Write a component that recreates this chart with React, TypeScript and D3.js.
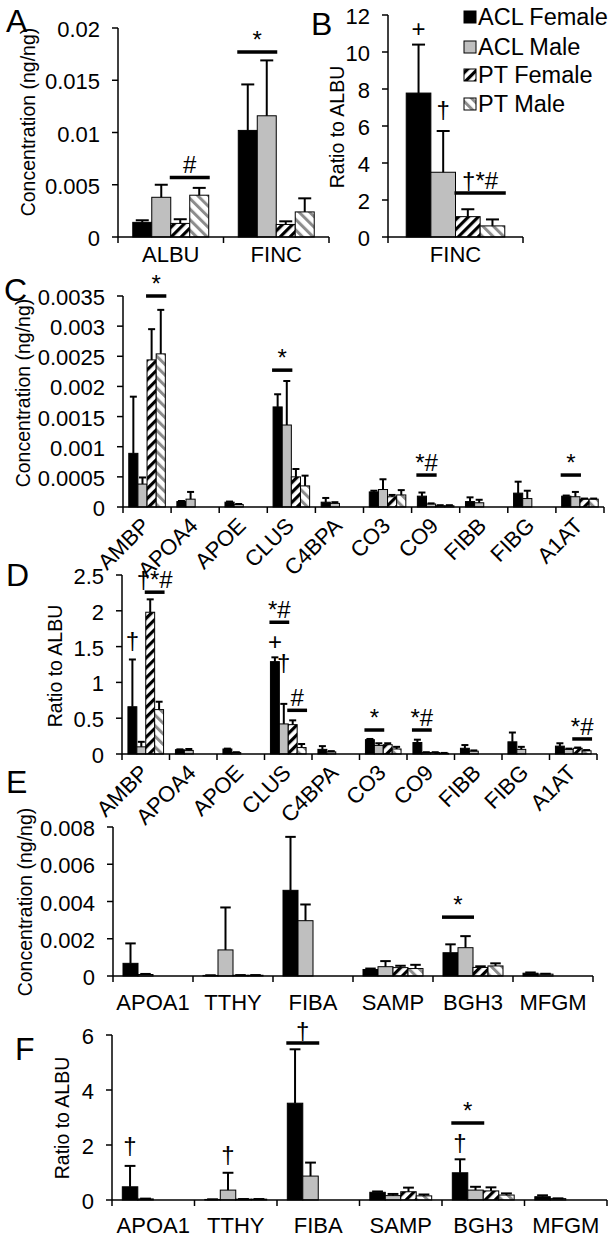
import React from "react";
import * as d3 from "d3";

const FONT = "'Liberation Sans', Arial, Helvetica, sans-serif";
const GROUPS = ["ACL Female", "ACL Male", "PT Female", "PT Male"];
const FILLS = ["#000000", "#bfbfbf", "url(#ptF)", "url(#ptM)"];

type Row = (number | null)[];
type SigLine = { cat: string; g0: number; g1: number; y: number; text: string };
type SigMark = { cat: string; g: number; y: number; text: string };

// ---------- Panel A: concentration ----------
const catsA = ["ALBU", "FINC"];
const meanA: Row[] = [
  [0.0014, 0.0038, 0.0013, 0.004],
  [0.0102, 0.0116, 0.0012, 0.0024],
];
const errA: Row[] = [
  [0.0002, 0.0012, 0.0004, 0.0007],
  [0.0044, 0.0053, 0.0003, 0.0013],
];
const ticksA = ["0", "0.005", "0.01", "0.015", "0.02"];
const sigLinesA: SigLine[] = [
  { cat: "ALBU", g0: 2, g1: 3, y: 0.0057, text: "#" },
  { cat: "FINC", g0: 0, g1: 1, y: 0.0177, text: "*" },
];
const sigMarksA: SigMark[] = [];

// ---------- Panel B: ratio to ALBU ----------
const catsB = ["FINC"];
const meanB: Row[] = [[7.78, 3.5, 1.1, 0.6]];
const errB: Row[] = [[2.62, 2.23, 0.4, 0.35]];
const ticksB = ["0", "2", "4", "6", "8", "10", "12"];
const sigLinesB: SigLine[] = [{ cat: "FINC", g0: 2, g1: 3, y: 2.38, text: "†*#" }];
const sigMarksB: SigMark[] = [
  { cat: "FINC", g: 0, y: 10.8, text: "+" },
  { cat: "FINC", g: 1, y: 6.43, text: "†" },
];

// ---------- Panel C: concentration ----------
const catsCD = ["AMBP", "APOA4", "APOE", "CLUS", "C4BPA", "CO3", "CO9", "FIBB", "FIBG", "A1AT"];
const meanC: Row[] = [
  [0.00089, 0.00038, 0.00244, 0.00254],
  [0.00009, 0.00013, null, null],
  [0.00008, 0.00004, null, null],
  [0.00166, 0.00136, 0.0005, 0.00035],
  [0.00008, 0.00006, null, null],
  [0.00025, 0.00029, 0.00017, 0.0002],
  [0.00018, 0.00005, 0.00002, 0.00002],
  [0.00009, 0.00007, null, null],
  [0.00023, 0.00014, null, null],
  [0.00018, 0.00017, 0.00013, 0.00013],
];
const errC: Row[] = [
  [0.00094, 0.00011, 0.00051, 0.00073],
  [0.00001, 0.00012, null, null],
  [0.00001, 0.00001, null, null],
  [0.00021, 0.00073, 0.00013, 0.00017],
  [0.00007, 0.00002, null, null],
  [0.00002, 0.00017, 0.00003, 0.00008],
  [0.00006, 0.00001, 0.00001, 0.00001],
  [0.00007, 0.00005, null, null],
  [0.00019, 0.00013, null, null],
  [0.00001, 0.00008, 0.00001, 0.00001],
];
const ticksC = ["0", "0.0005", "0.001", "0.0015", "0.002", "0.0025", "0.003", "0.0035"];
const sigLinesC: SigLine[] = [
  { cat: "AMBP", g0: 2, g1: 3, y: 0.0035, text: "*" },
  { cat: "CLUS", g0: 0, g1: 1, y: 0.00227, text: "*" },
  { cat: "CO9", g0: 0, g1: 1, y: 0.00053, text: "*#" },
  { cat: "A1AT", g0: 0, g1: 1, y: 0.00053, text: "*" },
];
const sigMarksC: SigMark[] = [];

// ---------- Panel D: ratio to ALBU ----------
const meanD: Row[] = [
  [0.66, 0.1, 1.98, 0.62],
  [0.06, 0.05, null, null],
  [0.07, 0.02, null, null],
  [1.29, 0.42, 0.41, 0.09],
  [0.065, 0.03, null, null],
  [0.2, 0.12, 0.13, 0.07],
  [0.16, 0.02, 0.02, 0.01],
  [0.08, 0.04, null, null],
  [0.17, 0.065, null, null],
  [0.11, 0.065, 0.08, 0.045],
];
const errD: Row[] = [
  [0.66, 0.07, 0.18, 0.11],
  [0.005, 0.02, null, null],
  [0.005, 0.005, null, null],
  [0.06, 0.28, 0.06, 0.05],
  [0.045, 0.01, null, null],
  [0.01, 0.03, 0.02, 0.03],
  [0.04, 0.005, 0.005, 0.005],
  [0.045, 0.01, null, null],
  [0.13, 0.035, null, null],
  [0.04, 0.01, 0.01, 0.01],
];
const ticksD = ["0", "0.5", "1", "1.5", "2", "2.5"];
const sigLinesD: SigLine[] = [
  { cat: "AMBP", g0: 2, g1: 3, y: 2.26, text: "†*#" },
  { cat: "CLUS", g0: 0, g1: 1, y: 1.84, text: "*#" },
  { cat: "CLUS", g0: 2, g1: 3, y: 0.61, text: "#" },
  { cat: "CO3", g0: 0, g1: 1, y: 0.335, text: "*" },
  { cat: "CO9", g0: 0, g1: 1, y: 0.335, text: "*#" },
  { cat: "A1AT", g0: 2, g1: 3, y: 0.21, text: "*#" },
];
const sigMarksD: SigMark[] = [
  { cat: "AMBP", g: 0, y: 1.47, text: "†" },
  { cat: "CLUS", g: 0, y: 1.45, text: "+" },
  { cat: "CLUS", g: 1, y: 1.16, text: "†" },
];

// ---------- Panel E: concentration ----------
const catsEF = ["APOA1", "TTHY", "FIBA", "SAMP", "BGH3", "MFGM"];
const meanE: Row[] = [
  [0.00068, 0.00008, null, null],
  [0.00003, 0.0014, 0.00004, 0.00004],
  [0.0046, 0.00297, null, null],
  [0.00035, 0.0005, 0.00045, 0.0004],
  [0.00125, 0.00152, 0.00046, 0.00054],
  [0.00015, 0.0001, null, null],
];
const errE: Row[] = [
  [0.00107, 0.00003, null, null],
  [0.00001, 0.00228, 0.00001, 0.00001],
  [0.00287, 0.00087, null, null],
  [0.00005, 0.0003, 0.0001, 0.0002],
  [0.00045, 0.00062, 0.00006, 0.00014],
  [0.00004, 0.00002, null, null],
];
const ticksE = ["0", "0.002", "0.004", "0.006", "0.008"];
const sigLinesE: SigLine[] = [{ cat: "BGH3", g0: 0, g1: 1, y: 0.00316, text: "*" }];
const sigMarksE: SigMark[] = [];

// ---------- Panel F: ratio to ALBU ----------
const meanF: Row[] = [
  [0.48, 0.04, null, null],
  [0.02, 0.36, 0.03, 0.03],
  [3.52, 0.87, null, null],
  [0.28, 0.16, 0.3, 0.15],
  [0.99, 0.36, 0.33, 0.18],
  [0.12, 0.05, null, null],
];
const errF: Row[] = [
  [0.76, 0.01, null, null],
  [0.005, 0.63, 0.005, 0.005],
  [1.96, 0.49, null, null],
  [0.03, 0.06, 0.15, 0.05],
  [0.49, 0.12, 0.13, 0.06],
  [0.05, 0.01, null, null],
];
const ticksF = ["0", "2", "4", "6"];
const sigLinesF: SigLine[] = [
  { cat: "FIBA", g0: 0, g1: 1, y: 5.71, text: "†" },
  { cat: "BGH3", g0: 0, g1: 1, y: 2.8, text: "*" },
];
const sigMarksF: SigMark[] = [
  { cat: "APOA1", g: 0, y: 1.67, text: "†" },
  { cat: "TTHY", g: 1, y: 1.35, text: "†" },
  { cat: "BGH3", g: 0, y: 1.78, text: "†" },
];

type Layout = {
  letter: string; letterX: number; letterY: number;
  x0: number; x1: number; yTop: number; yBottom: number;
  title: string; titleX: number; titleY: number;
  rotate: boolean; labelY: number; frac: number;
};

const FS = 22;

function Panel(props: {
  cats: string[]; means: Row[]; errs: Row[]; ticks: string[];
  lines: SigLine[]; marks: SigMark[]; L: Layout;
}) {
  const { cats, means, errs, ticks, lines, marks, L } = props;
  const yMax = +ticks[ticks.length - 1];
  const x = d3.scaleBand<string>().domain(cats).range([L.x0, L.x1]).padding(0);
  const bw = x.bandwidth();
  const pad = ((1 - L.frac) / 2) * bw;
  const gx = d3.scaleBand<string>().domain(GROUPS).range([pad, bw - pad]).padding(0);
  const w = gx.bandwidth();
  const y = d3.scaleLinear().domain([0, yMax]).range([L.yBottom, L.yTop]);
  const capW = Math.max(7, Math.min(13, w * 0.7));
  const boundaries = [...cats.map((c) => x(c) as number), L.x1];

  return (
    <g>
      <text x={L.letterX} y={L.letterY} fontSize={32} fontFamily={FONT}>{L.letter}</text>
      <text
        transform={`translate(${L.titleX},${L.titleY}) rotate(-90)`}
        textAnchor="middle" dy="0.35em" fontSize={19.5} fontFamily={FONT}
      >{L.title}</text>
      {/* bars */}
      {cats.map((c, i) =>
        GROUPS.map((gname, j) => {
          const v = means[i][j];
          if (v == null) return null;
          const bx = (x(c) as number) + (gx(gname) as number);
          return (
            <rect key={c + j} x={bx} y={y(v)} width={w} height={L.yBottom - y(v)}
              fill={FILLS[j]} stroke="#000" strokeWidth={1} />
          );
        })
      )}
      {/* error bars */}
      {cats.map((c, i) =>
        GROUPS.map((gname, j) => {
          const v = means[i][j];
          const e = errs[i][j];
          if (v == null || e == null) return null;
          const cx = (x(c) as number) + (gx(gname) as number) + w / 2;
          return (
            <g key={"e" + c + j} stroke="#000" strokeWidth={2}>
              <line x1={cx} x2={cx} y1={y(v)} y2={y(v + e)} />
              <line x1={cx - capW / 2} x2={cx + capW / 2} y1={y(v + e)} y2={y(v + e)} />
            </g>
          );
        })
      )}
      {/* axes */}
      <line x1={L.x0} x2={L.x0} y1={L.yTop} y2={L.yBottom} stroke="#000" strokeWidth={1.5} />
      <line x1={L.x0} x2={L.x1} y1={L.yBottom} y2={L.yBottom} stroke="#000" strokeWidth={1.5} />
      {ticks.map((t) => (
        <g key={"t" + t}>
          <line x1={L.x0 - 6} x2={L.x0} y1={y(+t)} y2={y(+t)} stroke="#000" strokeWidth={1.5} />
          <text x={L.x0 - 18} y={y(+t) + 9} textAnchor="end" fontSize={FS} fontFamily={FONT}>{t}</text>
        </g>
      ))}
      {boundaries.map((bx, k) => (
        <line key={"b" + k} x1={bx} x2={bx} y1={L.yBottom} y2={L.yBottom + 6} stroke="#000" strokeWidth={1.5} />
      ))}
      {cats.map((c) => {
        const cx = (x(c) as number) + bw / 2;
        return L.rotate ? (
          <text key={"l" + c} transform={`translate(${cx + 4},${L.yBottom + 20}) rotate(-45)`}
            textAnchor="end" fontSize={FS} fontFamily={FONT}>{c}</text>
        ) : (
          <text key={"l" + c} x={cx} y={L.labelY} textAnchor="middle" fontSize={FS} fontFamily={FONT}>{c}</text>
        );
      })}
      {/* significance lines */}
      {lines.map((s, k) => {
        const xa = (x(s.cat) as number) + (gx(GROUPS[s.g0]) as number);
        const xb = (x(s.cat) as number) + (gx(GROUPS[s.g1]) as number) + w;
        const yy = y(s.y);
        return (
          <g key={"s" + k}>
            <line x1={xa - 1} x2={xb + 1} y1={yy} y2={yy} stroke="#000" strokeWidth={3.5} />
            <text x={(xa + xb) / 2} y={yy - 4} textAnchor="middle" fontSize={FS + 2} fontFamily={FONT}>{s.text}</text>
          </g>
        );
      })}
      {marks.map((m, k) => {
        const cx = (x(m.cat) as number) + (gx(GROUPS[m.g]) as number) + w / 2;
        return (
          <text key={"m" + k} x={cx} y={y(m.y)} textAnchor="middle" fontSize={FS + 2} fontFamily={FONT}>{m.text}</text>
        );
      })}
    </g>
  );
}

const LA: Layout = { letter: "A", letterX: 6, letterY: 32, x0: 118, x1: 329, yTop: 28, yBottom: 237,
  title: "Concentration (ng/ng)", titleX: 28, titleY: 122, rotate: false, labelY: 262, frac: 0.72 };
const LB: Layout = { letter: "B", letterX: 311, letterY: 35, x0: 388, x1: 523, yTop: 15, yBottom: 237,
  title: "Ratio to ALBU", titleX: 337, titleY: 127, rotate: false, labelY: 262, frac: 0.73 };
const LC: Layout = { letter: "C", letterX: 4, letterY: 301, x0: 123, x1: 604, yTop: 296, yBottom: 507,
  title: "Concentration (ng/ng)", titleX: 23, titleY: 393, rotate: true, labelY: 0, frac: 0.76 };
const LD: Layout = { letter: "D", letterX: 6, letterY: 586, x0: 122, x1: 597, yTop: 575, yBottom: 754,
  title: "Ratio to ALBU", titleX: 55, titleY: 666, rotate: true, labelY: 0, frac: 0.75 };
const LE: Layout = { letter: "E", letterX: 6, letterY: 793, x0: 113, x1: 593, yTop: 827, yBottom: 976,
  title: "Concentration (ng/ng)", titleX: 25, titleY: 902, rotate: false, labelY: 1010, frac: 0.75 };
const LF: Layout = { letter: "F", letterX: 15, letterY: 1060, x0: 112, x1: 607, yTop: 1035, yBottom: 1200,
  title: "Ratio to ALBU", titleX: 62, titleY: 1118, rotate: false, labelY: 1233, frac: 0.75 };

const LEGEND_Y = [17, 47, 75, 104];

export default function App() {
  return (
    <div style={{ position: "absolute", left: 0, top: 0 }}>
      <svg width={614} height={1241} style={{ display: "block", background: "#fff" }}>
        <defs>
          <pattern id="ptF" patternUnits="userSpaceOnUse" width={7} height={7} patternTransform="rotate(45)">
            <rect width={7} height={7} fill="#fff" />
            <rect width={3.2} height={7} fill="#000" />
          </pattern>
          <pattern id="ptM" patternUnits="userSpaceOnUse" width={7.5} height={7.5} patternTransform="rotate(-45)">
            <rect width={7.5} height={7.5} fill="#fff" />
            <rect width={3} height={7.5} fill="#8c8c8c" />
          </pattern>
        </defs>
        <rect width={614} height={1241} fill="#fff" />
        <Panel cats={catsA} means={meanA} errs={errA} ticks={ticksA} lines={sigLinesA} marks={sigMarksA} L={LA} />
        <Panel cats={catsB} means={meanB} errs={errB} ticks={ticksB} lines={sigLinesB} marks={sigMarksB} L={LB} />
        <Panel cats={catsCD} means={meanC} errs={errC} ticks={ticksC} lines={sigLinesC} marks={sigMarksC} L={LC} />
        <Panel cats={catsCD} means={meanD} errs={errD} ticks={ticksD} lines={sigLinesD} marks={sigMarksD} L={LD} />
        <Panel cats={catsEF} means={meanE} errs={errE} ticks={ticksE} lines={sigLinesE} marks={sigMarksE} L={LE} />
        <Panel cats={catsEF} means={meanF} errs={errF} ticks={ticksF} lines={sigLinesF} marks={sigMarksF} L={LF} />
        {/* legend */}
        {GROUPS.map((gname, j) => (
          <g key={"lg" + j}>
            <rect x={464} y={LEGEND_Y[j] - 6} width={12} height={12} fill={FILLS[j]} stroke="#000" strokeWidth={1} />
            <text x={478} y={LEGEND_Y[j] + 8} fontSize={23.5} fontFamily={FONT}>{gname}</text>
          </g>
        ))}
      </svg>
    </div>
  );
}
